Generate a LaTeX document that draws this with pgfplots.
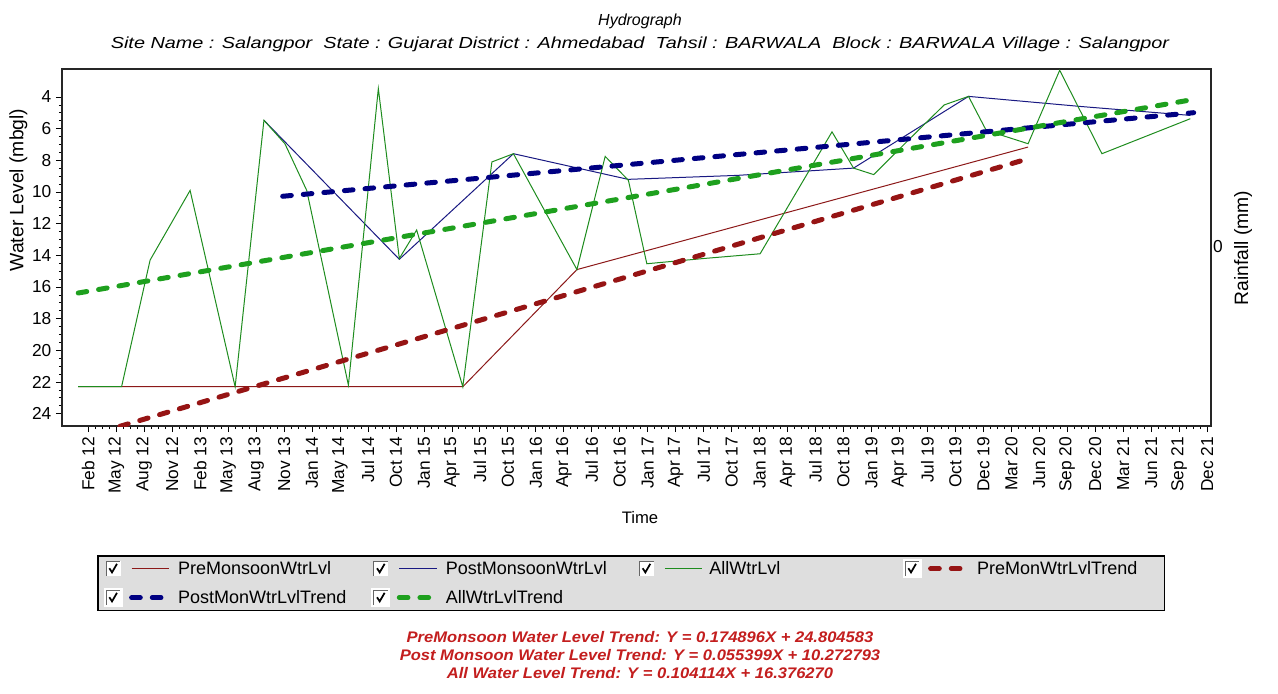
\documentclass[border=0pt]{standalone}
\usepackage{fontspec}
\setmainfont{Liberation Sans}
\usepackage{graphicx}
\usepackage{pgfplots}
\pgfplotsset{compat=1.18}

\definecolor{premon}{RGB}{140,25,25}
\definecolor{pretrend}{RGB}{150,20,20}
\definecolor{postmon}{RGB}{25,25,130}
\definecolor{posttrend}{RGB}{0,0,130}
\definecolor{allwl}{RGB}{30,140,30}
\definecolor{alltrend}{RGB}{30,160,30}
\definecolor{trendtxt}{RGB}{195,30,30}
\definecolor{legbg}{RGB}{222,222,222}

% legend sample = check box + line
\pgfplotsset{
  chk/.style={legend image code/.code={
    \fill[white,solid] (0pt,-5.25pt) rectangle (10.5pt,5.25pt);
    \draw[black!60,line width=0.75pt,solid,line cap=butt] (0pt,-5.25pt) -- (0pt,5.25pt) -- (10.5pt,5.25pt);
    \draw[black,line width=1.3pt,solid,line cap=butt,line join=miter] (2.3pt,0.3pt) -- (4.3pt,-2.8pt) -- (8pt,3.6pt);
    \draw[##1] (19pt,0pt) -- (47pt,0pt);
  }},
  thin/.style={line width=0.75pt},
  trend/.style={line width=3.75pt, line cap=round, dash pattern=on 6.5pt off 9pt},
}

\begin{document}
\begin{tikzpicture}
\begin{scope}[x=0.75pt,y=0.75pt]
\path[use as bounding box] (0,0) rectangle (1278,693);
\end{scope}
\begin{axis}[
  at={(46.5pt,200.25pt)}, anchor=south west,
  width=861.75pt, height=267.75pt, scale only axis,
  xmin=-0.94, xmax=40.14,
  ymin=2.23, ymax=24.78, y dir=reverse,
  xtick={0,...,40},
  xticklabels={Feb 12,May 12,Aug 12,Nov 12,Feb 13,May 13,Aug 13,Nov 13,Jan 14,May 14,Jul 14,Oct 14,Jan 15,Apr 15,Jul 15,Oct 15,Jan 16,Apr 16,Jul 16,Oct 16,Jan 17,Apr 17,Jul 17,Oct 17,Jan 18,Apr 18,Jul 18,Oct 18,Jan 19,Apr 19,Jul 19,Oct 19,Dec 19,Mar 20,Jun 20,Sep 20,Dec 20,Mar 21,Jun 21,Sep 21,Dec 21},
  minor x tick num=3,
  ytick={4,6,...,24}, minor y tick num=3,
  tick align=outside, xtick pos=bottom, ytick pos=left,
  major tick length=4.5pt, minor tick length=2.25pt,
  tick style={black, line width=0.6pt},
  x tick label style={rotate=90, anchor=east, font=\fontsize{13}{13}\selectfont},
  y tick label style={font=\fontsize{13}{13}\selectfont},
  /pgf/number format/assume math mode=true,
  axis line style={line width=1pt, black!85},
  legend columns=4,
  legend cell align=left,
  legend style={at={(axis description cs:0.03046,-0.36134)}, anchor=north west,
    fill=legbg, draw=black, line width=1.2pt, column sep=0pt, row sep=7.5pt,
    inner xsep=4.5pt, inner ysep=2.5pt,
    nodes={inner sep=0pt, font=\fontsize{13.5}{15}\selectfont}},
]
\addplot[premon, thin, chk] coordinates {
  (-0.36,22.3) (1.19,22.3) (5.25,22.3) (9.3,22.3) (13.39,22.3) (17.47,14.9) (33.6,7.16)
};
\addlegendentry{\makebox[150pt][l]{\hspace{5pt}PreMonsoonWtrLvl}}
\addplot[postmon, thin, chk] coordinates {
  (6.28,5.47) (11.12,14.25) (15.2,7.58) (19.3,9.2) (23.2,8.95) (27.36,8.49) (31.47,3.96) (35.5,4.6) (39.4,5.16)
};
\addlegendentry{\makebox[150pt][l]{\hspace{5pt}PostMonsoonWtrLvl}}
\addplot[allwl, thin, chk] coordinates {
  (-0.36,22.3) (1.19,22.3) (2.21,14.3) (3.64,9.9) (5.25,22.3) (6.28,5.47) (7.03,6.95)
  (7.81,9.9) (9.3,22.2) (10.37,3.47) (11.12,14.2) (11.74,12.4) (13.39,22.3) (14.43,8.1)
  (15.2,7.58) (17.47,14.9) (18.48,7.75) (19.31,9.26) (19.97,14.53) (22.0,14.2) (24.02,13.9)
  (26.59,6.2) (27.36,8.49) (28.08,8.9) (29.39,6.6) (30.6,4.5) (31.47,3.96) (32.1,6.1)
  (33.6,6.95) (34.73,2.31) (36.24,7.58) (39.4,5.37)
};
\addlegendentry{\makebox[150pt][l]{\hspace{5pt}AllWtrLvl}}
\addplot[pretrend, trend, chk] coordinates {(1.13,24.80) (33.5,7.95)};
\addlegendentry{\makebox[141pt][l]{\hspace{5pt}PreMonWtrLvlTrend}}
\addplot[posttrend, trend, chk] coordinates {(6.95,10.27) (39.52,4.99)};
\addlegendentry{\makebox[150pt][l]{\hspace{5pt}PostMonWtrLvlTrend}}
\addplot[alltrend, trend, chk] coordinates {(-0.36,16.38) (39.52,4.15)};
\addlegendentry{\makebox[150pt][l]{\hspace{5pt}AllWtrLvlTrend}}
\end{axis}

\begin{scope}[x=0.75pt,y=0.75pt]
\node[font=\fontsize{12}{12}\selectfont\itshape] at (640,672) {Hydrograph};
\node[font=\fontsize{12}{12}\selectfont\itshape] at (640,649)
  {\scalebox{1.24}[1]{Site Name : Salangpor~ State : Gujarat District : Ahmedabad~ Tahsil : BARWALA~ Block : BARWALA Village : Salangpor}};
\node[font=\fontsize{14.5}{15}\selectfont, rotate=90] at (18.5,503) {Water Level (mbgl)};
\node[font=\fontsize{14.5}{15}\selectfont, rotate=90] at (1243,445) {Rainfall (mm)};
\node[font=\fontsize{13}{13}\selectfont] at (1218,446) {0};
\node[font=\fontsize{12.5}{13}\selectfont] at (640,175) {Time};
\node[font=\fontsize{11.5}{12}\selectfont\bfseries\itshape, text=trendtxt] at (640,56)
  {\scalebox{1.08}[1]{PreMonsoon Water Level Trend: Y = 0.174896X + 24.804583}};
\node[font=\fontsize{11.5}{12}\selectfont\bfseries\itshape, text=trendtxt] at (640,38)
  {\scalebox{1.08}[1]{Post Monsoon Water Level Trend: Y = 0.055399X + 10.272793}};
\node[font=\fontsize{11.5}{12}\selectfont\bfseries\itshape, text=trendtxt] at (640,20)
  {\scalebox{1.08}[1]{All Water Level Trend: Y = 0.104114X + 16.376270}};
\end{scope}
\end{tikzpicture}
\end{document}
